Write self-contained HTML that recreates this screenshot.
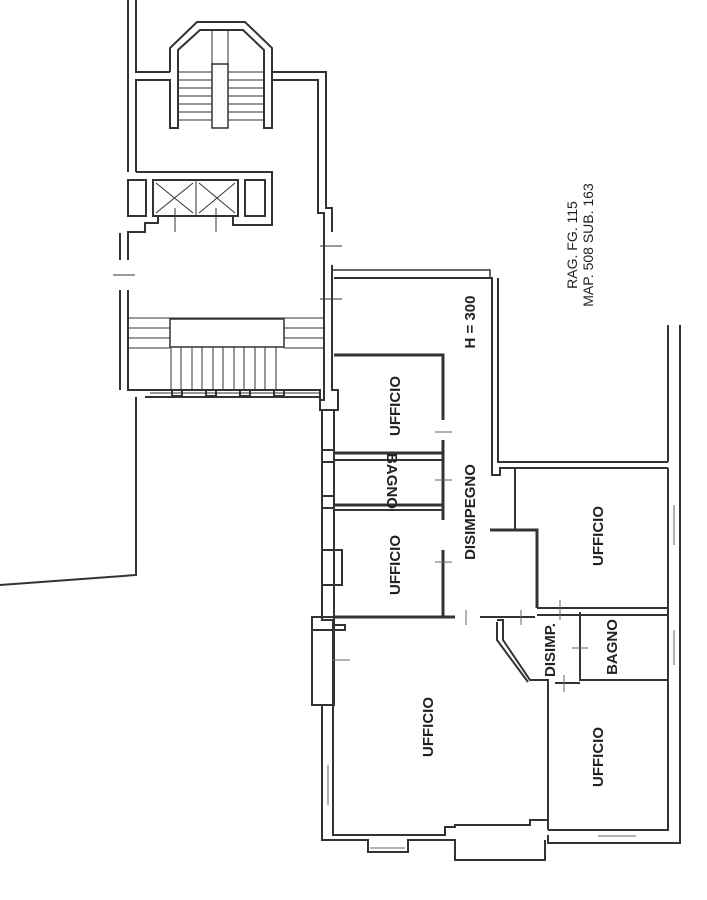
<!DOCTYPE html>
<html><head><meta charset="utf-8"><style>
html,body{margin:0;padding:0;background:#fff;}
svg{display:block}
text{font-family:"Liberation Sans",Arial,sans-serif;fill:#222;}
</style></head><body>
<svg width="707" height="900" viewBox="0 0 707 900" xmlns="http://www.w3.org/2000/svg">
<g fill="none" stroke="#333" stroke-width="2">
<polyline points="128,0 128,172"/>
<polyline points="136,0 136,72 170,72"/>
<polyline points="136,172 136,80 170,80 170,128 178,128 178,50 200,30 243,30 264,50 264,128 272,128 272,48 245,22 197,22 170,48 170,72"/>
<polyline points="272,72 326,72 326,208 332,208 332,232"/>
<polyline points="272,80 318,80 318,213 324,213 324,232"/>
<rect x="212" y="64" width="16" height="64" stroke-width="1.5"/>
<line x1="212" y1="30" x2="212" y2="64" stroke-width="1"/>
<line x1="228" y1="30" x2="228" y2="64" stroke-width="1"/>
<g stroke-width="1">
<line x1="178" y1="72" x2="212" y2="72"/><line x1="178" y1="80" x2="212" y2="80"/><line x1="178" y1="88" x2="212" y2="88"/><line x1="178" y1="96" x2="212" y2="96"/><line x1="178" y1="104" x2="212" y2="104"/><line x1="178" y1="112" x2="212" y2="112"/><line x1="178" y1="120" x2="212" y2="120"/>
<line x1="228" y1="72" x2="264" y2="72"/><line x1="228" y1="80" x2="264" y2="80"/><line x1="228" y1="88" x2="264" y2="88"/><line x1="228" y1="96" x2="264" y2="96"/><line x1="228" y1="104" x2="264" y2="104"/><line x1="228" y1="112" x2="264" y2="112"/><line x1="228" y1="120" x2="264" y2="120"/>
</g>
<polyline points="136,172 272,172 272,225 233,225 233,215"/>
<rect x="128" y="180" width="18" height="36"/>
<rect x="153" y="180" width="85" height="36"/>
<line x1="196" y1="180" x2="196" y2="216" stroke-width="1"/>
<g stroke-width="1"><line x1="156" y1="183" x2="193" y2="213"/><line x1="193" y1="183" x2="156" y2="213"/><line x1="199" y1="183" x2="235" y2="213"/><line x1="235" y1="183" x2="199" y2="213"/>
<line x1="175" y1="208" x2="175" y2="232"/><line x1="216" y1="208" x2="216" y2="232"/><line x1="113" y1="275" x2="135" y2="275"/><line x1="320" y1="246" x2="342" y2="246"/><line x1="320" y1="299" x2="342" y2="299"/></g>
<rect x="245" y="180" width="20" height="36"/>
<polyline points="158,216 158,223 145,223 145,232 128,232 128,260"/>
<polyline points="120,233 120,260"/>
<polyline points="128,290 128,390 150,390"/>
<polyline points="120,290 120,390"/>
<rect x="170" y="319" width="114" height="28" stroke-width="1.5"/>
<g stroke-width="1">
<line x1="128" y1="318" x2="324" y2="318"/><line x1="128" y1="328" x2="170" y2="328"/><line x1="128" y1="338" x2="170" y2="338"/><line x1="128" y1="348" x2="170" y2="348"/>
<line x1="284" y1="328" x2="324" y2="328"/><line x1="284" y1="338" x2="324" y2="338"/><line x1="284" y1="348" x2="324" y2="348"/>
<line x1="171" y1="347" x2="171" y2="390"/><line x1="181" y1="347" x2="181" y2="390"/><line x1="192" y1="347" x2="192" y2="390"/><line x1="202" y1="347" x2="202" y2="390"/><line x1="213" y1="347" x2="213" y2="390"/><line x1="223" y1="347" x2="223" y2="390"/><line x1="234" y1="347" x2="234" y2="390"/><line x1="244" y1="347" x2="244" y2="390"/><line x1="255" y1="347" x2="255" y2="390"/><line x1="265" y1="347" x2="265" y2="390"/><line x1="276" y1="347" x2="276" y2="390"/>
<line x1="150" y1="393" x2="320" y2="393"/>
</g>
<polyline points="150,390 320,390 320,400"/>
<polyline points="145,397 320,397"/>
<rect x="172" y="390" width="10" height="6"/><rect x="206" y="390" width="10" height="6"/><rect x="240" y="390" width="10" height="6"/><rect x="274" y="390" width="10" height="6"/>
<polyline points="136,397 136,575 0,585"/>
<polyline points="324,232 324,400 320,400 320,410 330,410"/>
<polyline points="332,265 332,390 338,390 338,410 330,410"/>
<polyline points="332,270 490,270 490,278" stroke-width="1.5"/>
<polyline points="334,278 492,278 492,475 500,475 500,468 668,468"/>
<polyline points="498,278 498,462 668,462"/>
<polyline points="668,325 668,462"/>
<polyline points="680,325 680,830 680,843 548,843 548,835"/>
<polyline points="668,468 668,830 548,830"/>
<polyline points="334,355 443,355 443,420" stroke-width="3"/>
<polyline points="443,440 443,520" stroke-width="3"/>
<polyline points="443,550 443,617" stroke-width="3"/>
<line x1="334" y1="453" x2="443" y2="453" stroke-width="3"/>
<line x1="334" y1="460" x2="443" y2="460"/>
<line x1="334" y1="505" x2="443" y2="505" stroke-width="3"/>
<line x1="334" y1="510" x2="443" y2="510"/>
<line x1="334" y1="617" x2="455" y2="617" stroke-width="3"/>
<polyline points="334,410 334,617"/>
<polyline points="322,410 322,617"/>
<rect x="322" y="450" width="12" height="12"/><rect x="322" y="496" width="12" height="12"/>
<polyline points="322,550 342,550 342,585 322,585"/>
<polyline points="515,468 515,530"/>
<polyline points="490,530 537,530 537,608" stroke-width="3"/>
<line x1="537" y1="608" x2="668" y2="608"/>
<line x1="537" y1="615" x2="668" y2="615"/>
<polyline points="580,612 580,680 668,680" stroke-width="2"/>
<polyline points="480,617 535,617"/>
<polyline points="497,620 503,620 503,640 530,680 548,680 548,830"/>
<polyline points="497,622 497,640 528,682"/>
<polyline points="555,683 580,683"/>
<polyline points="322,617 322,620 333,620 333,835 368,835"/>
<polyline points="333,625 345,625 345,630 312,630 312,705 322,705"/>
<rect x="312" y="617" width="22" height="88"/>
<polyline points="322,705 322,840 368,840 368,852 408,852 408,840 455,840 455,860 545,860 545,840"/>
<polyline points="333,835 445,835 445,827 455,827 455,825 530,825 530,820 548,820"/>
</g>
<g fill="none" stroke="#666" stroke-width="1">
<line x1="332" y1="660" x2="350" y2="660"/>
<line x1="435" y1="432" x2="452" y2="432"/><line x1="435" y1="480" x2="452" y2="480"/><line x1="435" y1="562" x2="452" y2="562"/>
<line x1="466" y1="610" x2="466" y2="625"/><line x1="521" y1="610" x2="521" y2="625"/>
<line x1="560" y1="600" x2="560" y2="620"/><line x1="572" y1="648" x2="588" y2="648"/><line x1="564" y1="675" x2="564" y2="692"/>
<line x1="674" y1="505" x2="674" y2="545"/><line x1="674" y1="630" x2="674" y2="665"/>
<line x1="370" y1="848" x2="405" y2="848"/><line x1="598" y1="836" x2="636" y2="836"/>
<line x1="328" y1="765" x2="328" y2="805"/>
</g>
<g font-size="15" font-weight="bold" text-anchor="middle">
<text transform="translate(395,406) rotate(-90)" dy="5">UFFICIO</text>
<text transform="translate(392,481) rotate(90)" dy="5">BAGNO</text>
<text transform="translate(395,565) rotate(-90)" dy="5">UFFICIO</text>
<text transform="translate(470,512) rotate(-90)" dy="5">DISIMPEGNO</text>
<text transform="translate(470,322) rotate(-90)" dy="5">H = 300</text>
<text transform="translate(598,536) rotate(-90)" dy="5">UFFICIO</text>
<text transform="translate(612,647) rotate(-90)" dy="5">BAGNO</text>
<text transform="translate(550,650) rotate(-90)" dy="5">DISIMP.</text>
<text transform="translate(428,727) rotate(-90)" dy="5">UFFICIO</text>
<text transform="translate(598,757) rotate(-90)" dy="5">UFFICIO</text>
</g>
<g font-size="14" text-anchor="middle">
<text transform="translate(572,245) rotate(-90)" dy="5">RAG. FG. 115</text>
<text transform="translate(588,245) rotate(-90)" dy="5">MAP. 508 SUB. 163</text>
</g>
</svg>
</body></html>
